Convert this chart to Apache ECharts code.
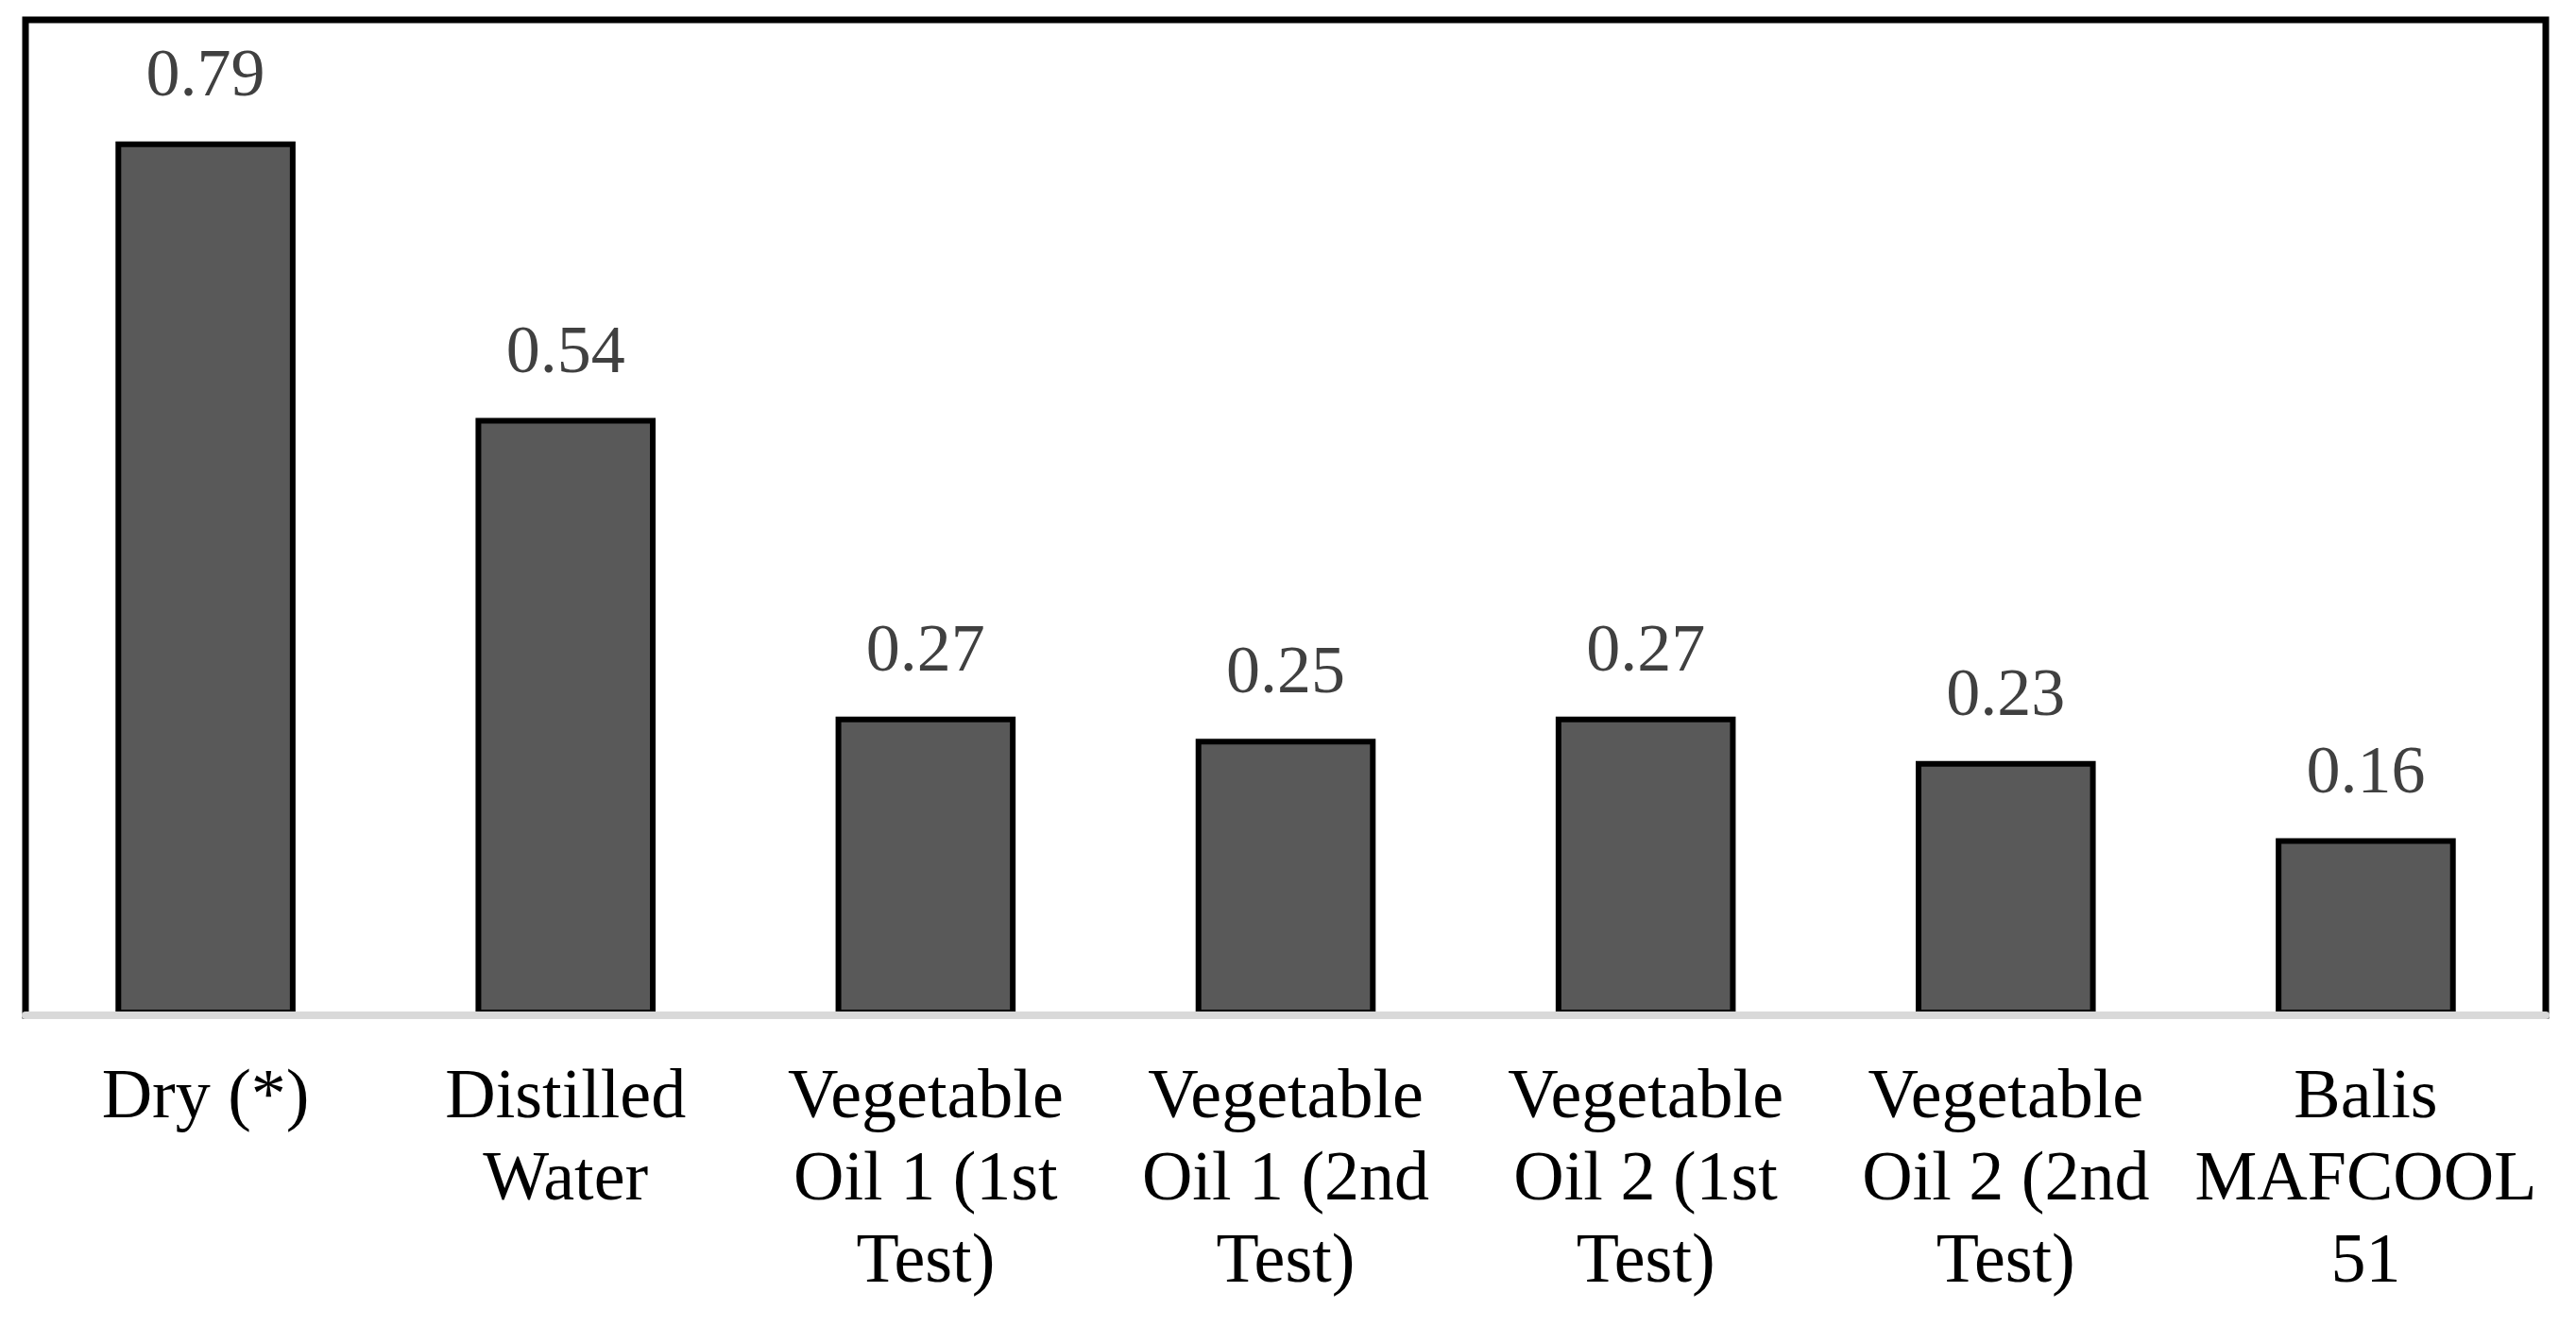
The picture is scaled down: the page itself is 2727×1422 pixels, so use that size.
<!DOCTYPE html>
<html>
<head>
<meta charset="utf-8">
<script src="https://cdn.jsdelivr.net/npm/echarts@6/dist/echarts.min.js"></script>
<style>
html,body{margin:0;padding:0;background:#fff;}
#chart{width:2727px;height:1422px;}
</style>
</head>
<body>
<div id="chart"></div>
<script>
const categories = [
  "Dry (*)",
  "Distilled\nWater",
  "Vegetable\nOil 1 (1st\nTest)",
  "Vegetable\nOil 1 (2nd\nTest)",
  "Vegetable\nOil 2 (1st\nTest)",
  "Vegetable\nOil 2 (2nd\nTest)",
  "Balis\nMAFCOOL\n51"
];
const values = [0.79, 0.54, 0.27, 0.25, 0.27, 0.23, 0.16];

const chart = echarts.init(document.getElementById('chart'));
chart.setOption({
  backgroundColor: '#ffffff',
  animation: false,
  grid: {
    left: 27, right: 32, top: 21, bottom: 347,
    show: true, borderColor: '#000000', borderWidth: 7, backgroundColor: 'transparent'
  },
  xAxis: {
    type: 'category',
    data: categories,
    z: 10,
    axisLine: { show: true, lineStyle: { color: '#d9d9d9', width: 8 } },
    axisTick: { show: false },
    axisLabel: {
      interval: 0,
      margin: 45,
      color: '#000000',
      fontFamily: '"Liberation Serif", "Times New Roman", serif',
      fontSize: 74,
      lineHeight: 87,
      align: 'center'
    }
  },
  yAxis: {
    type: 'value',
    min: 0, max: 0.9,
    show: false,
    splitLine: { show: false }
  },
  series: [{
    type: 'bar',
    data: values,
    barCategoryGap: '50%',
    itemStyle: { color: '#595959', borderColor: '#000000', borderWidth: 6 },
    label: {
      show: true,
      position: 'top',
      distance: 32,
      color: '#404040',
      fontFamily: '"Liberation Serif", "Times New Roman", serif',
      fontSize: 72,
      formatter: p => p.value.toFixed(2)
    }
  }]
});
</script>
</body>
</html>
